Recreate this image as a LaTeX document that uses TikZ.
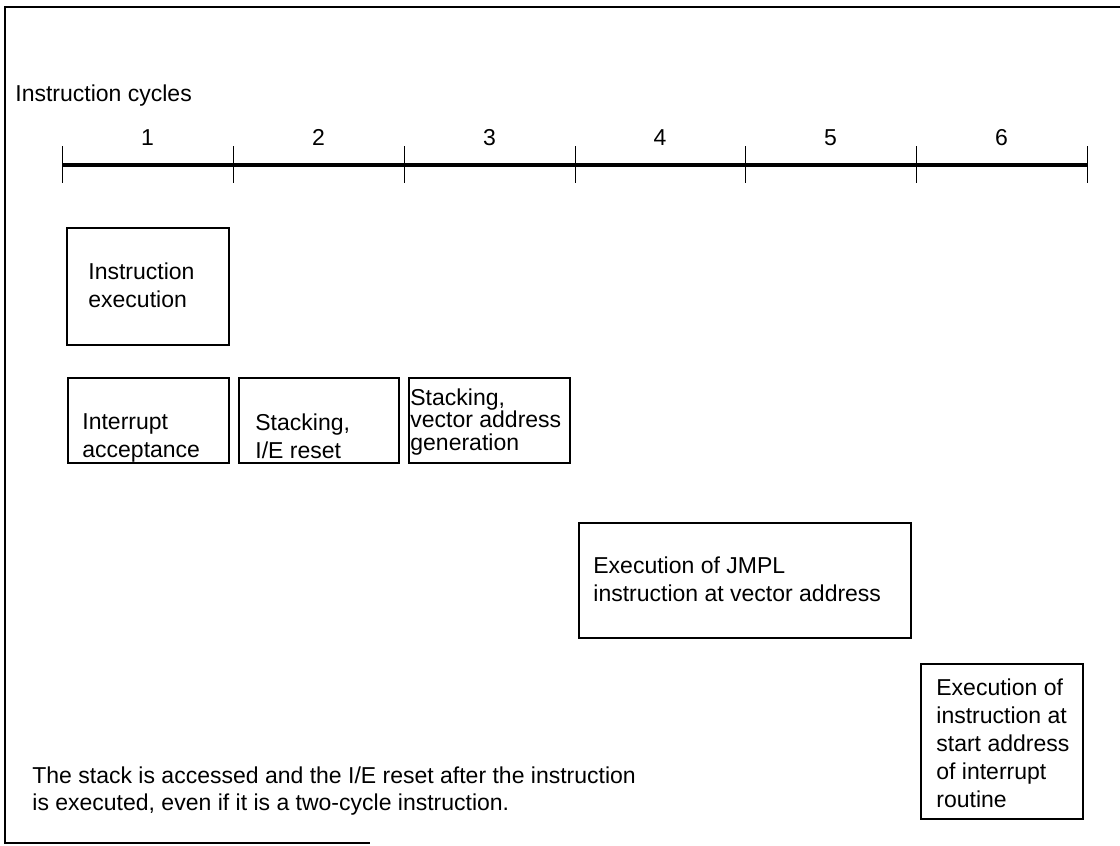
\documentclass[tikz,border=0pt]{standalone}
\usepackage{fontspec}
\setmainfont{Liberation Sans}
\newcommand{\cyclefont}{\fontsize{11.5}{14}\selectfont}

\tikzset{
  phase/.style={draw, line width=1.2pt, anchor=north west, inner sep=0pt},
  phasetext/.style={anchor=west, align=left, inner sep=0pt, font=\cyclefont},
  cyclenum/.style={anchor=base, inner sep=0pt},
}

\begin{document}
\begin{tikzpicture}[x=0.5pt, y=-0.5pt, font=\cyclefont]
        \useasboundingbox (0,0) rectangle (1120,846);
        \draw[line width=0.75pt] (1120,7) -- (5,7) -- (5,843) -- (370,843);

        \node[anchor=base west, inner sep=0pt] (title) at (15,101) {Instruction cycles};

        % time axis
        \foreach \i/\x in {0/62,1/233,2/404,3/575,4/745,5/916,6/1087}
          \coordinate (t\i) at (\x,165);
        \draw[line width=1.8pt] (t0) -- (t6);
        \foreach \i in {0,...,6}
          \draw[line width=0.5pt] ([yshift=9.5pt]t\i) -- ([yshift=-9pt]t\i);

        \node[cyclenum] (c1) at (147.5,145) {1}; \node[cyclenum] (c2) at (318.5,145) {2};
        \node[cyclenum] (c3) at (489.5,145) {3}; \node[cyclenum] (c4) at (660,145) {4};
        \node[cyclenum] (c5) at (830.5,145) {5}; \node[cyclenum] (c6) at (1001.5,145) {6};

        % phases
        \node[phase, minimum width=81pt, minimum height=58.5pt] (ie) at (66,227) {};
        \node[phasetext] (ieT) at (88,285) {Instruction\\execution};

        \node[phase, minimum width=80.5pt, minimum height=42.5pt] (ia) at (67,377) {};
        \node[phasetext] (iaT) at (82,438) {Interrupt\\acceptance};

        \node[phase, minimum width=80pt, minimum height=42.5pt] (sr) at (238,377) {};
        \node[phasetext] (srT) at (255,436) {Stacking,\\I/E reset};

        \node[phase, minimum width=80.5pt, minimum height=42.5pt] (sv) at (408,377) {};
        \node[phasetext, font=\fontsize{11.5}{11.25}\selectfont] (svT) at (410,422)
          {Stacking,\\vector address\\generation};

        \node[phase, minimum width=166pt, minimum height=57.5pt] (jm) at (578,522) {};
        \node[phasetext] (jmT) at (593,579) {Execution of JMPL\\instruction at vector address};

        \node[phase, minimum width=81pt, minimum height=77.5pt] (ex) at (920,663) {};
        \node[phasetext] (exT) at (936,743)
          {Execution of\\instruction at\\start address\\of interrupt\\routine};

        \node[phasetext, font=\fontsize{11.5}{13.5}\selectfont] (note) at (32,791)
          {The stack is accessed and the I/E reset after the instruction\\is executed, even if it is a two-cycle instruction.};
\end{tikzpicture}
\end{document}
